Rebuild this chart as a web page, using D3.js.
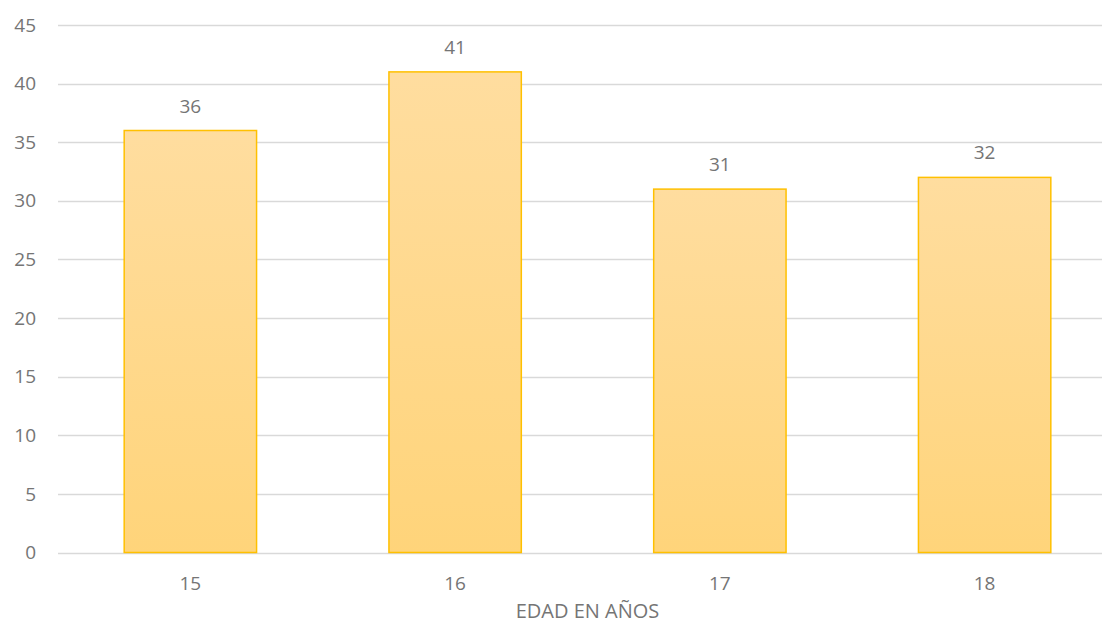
<!DOCTYPE html>
<html>
<head>
<meta charset="utf-8">
<script src="https://cdn.jsdelivr.net/npm/d3@7"></script>
<style>
  body { margin: 0; background: #fff; }
  text { font-family: "Open Sans", sans-serif; fill: #757575; }
</style>
</head>
<body>
<script>
// Data
const ages = ["15", "16", "17", "18"];
const counts = [36, 41, 31, 32];
const yTicks = [0, 5, 10, 15, 20, 25, 30, 35, 40, 45];
const xTitle = "EDAD EN AÑOS";

const width = 1102, height = 632;
const margin = { top: 25, left: 58, bottom: 80 };
const plotRight = 1117; // plot area runs past the right edge of the image

const x = d3.scaleBand().domain(ages).range([margin.left, plotRight])
    .paddingInner(0.5).paddingOuter(0.25);
const y = d3.scaleLinear().domain([0, 45]).range([height - margin.bottom + 0.5, margin.top]);

const svg = d3.select("body").append("svg")
    .attr("width", width)
    .attr("height", height);

const defs = svg.append("defs");
const grad = defs.append("linearGradient")
    .attr("id", "barFill")
    .attr("x1", 0).attr("y1", 0).attr("x2", 0).attr("y2", 1);
grad.append("stop").attr("offset", "0%").attr("stop-color", "#FFDD9F");
grad.append("stop").attr("offset", "100%").attr("stop-color", "#FFD47A");

// Gridlines
svg.append("g")
    .selectAll("line")
    .data(yTicks)
    .join("line")
    .attr("x1", margin.left)
    .attr("x2", width)
    .attr("y1", d => Math.round(y(d)) + 0.5)
    .attr("y2", d => Math.round(y(d)) + 0.5)
    .attr("stroke", "#D9D9D9")
    .attr("stroke-width", 1.3);

// Y tick labels
svg.append("g")
    .selectAll("text")
    .data(yTicks)
    .join("text")
    .attr("x", 36)
    .attr("y", d => y(d))
    .attr("dy", "0.35em")
    .attr("text-anchor", "end")
    .attr("font-size", "19px")
    .text(d => d);

// Bars
svg.append("g")
    .selectAll("rect")
    .data(counts)
    .join("rect")
    .attr("x", (d, i) => x(ages[i]))
    .attr("y", d => y(d))
    .attr("width", x.bandwidth())
    .attr("height", d => y(0) - y(d))
    .attr("fill", "url(#barFill)")
    .attr("stroke", "#FFC000")
    .attr("stroke-width", 1.5);

// Value labels
svg.append("g")
    .selectAll("text")
    .data(counts)
    .join("text")
    .attr("x", (d, i) => x(ages[i]) + x.bandwidth() / 2)
    .attr("y", d => y(d) - 18)
    .attr("text-anchor", "middle")
    .attr("font-size", "19px")
    .text(d => d);

// X tick labels
svg.append("g")
    .selectAll("text")
    .data(ages)
    .join("text")
    .attr("x", d => x(d) + x.bandwidth() / 2)
    .attr("y", y(0) + 37)
    .attr("text-anchor", "middle")
    .attr("font-size", "19px")
    .text(d => d);

// X axis title
svg.append("text")
    .attr("x", (margin.left + plotRight) / 2)
    .attr("y", 618)
    .attr("text-anchor", "middle")
    .attr("font-size", "20px")
    .text(xTitle);
</script>
</body>
</html>
